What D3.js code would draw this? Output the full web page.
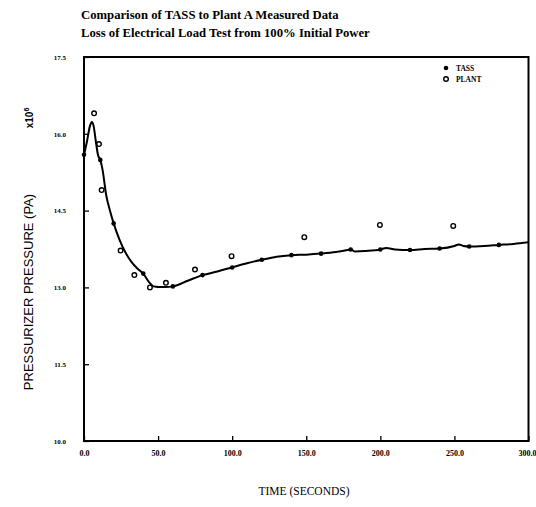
<!DOCTYPE html>
<html>
<head>
<meta charset="utf-8">
<script src="https://cdn.jsdelivr.net/npm/d3@7"></script>
<style>
  body { margin: 0; background: #fff; }
  svg { display: block; }
  .tick text { font-family: "Liberation Serif", serif; font-weight: bold; fill: #000; }
</style>
</head>
<body>
<script>
const w = 536;
const h = 507;

// ----- DATA -----
// TASS simulation curve (time s, pressure x10^6 Pa)
const tassTime = [0, 2, 4, 5.3, 6.5, 8, 9.5, 11, 12.5, 15, 17.5, 20, 24, 28, 32, 36, 40, 44, 47, 50, 55, 60,
  70, 80, 90, 100, 110, 120, 130, 140, 150, 160, 170, 178, 180, 183, 190, 200, 204, 210, 220, 230, 240,
  250, 253, 256, 260, 270, 280, 290, 300];
const tassPressure = [15.59, 15.85, 16.15, 16.23, 16.15, 15.85, 15.58, 15.49, 15.30, 14.80, 14.50, 14.25,
  13.93, 13.68, 13.50, 13.37, 13.27, 13.10, 13.02, 13.01, 13.01, 13.02, 13.13, 13.24, 13.31, 13.39, 13.47,
  13.54, 13.60, 13.63, 13.64, 13.66, 13.69, 13.73, 13.74, 13.70, 13.71, 13.74, 13.77, 13.74, 13.73, 13.75,
  13.76, 13.81, 13.84, 13.81, 13.80, 13.81, 13.83, 13.85, 13.88];

// TASS markers
const tassMarkTime = [0, 11, 20, 40, 60, 80, 100, 120, 140, 160, 180, 200, 220, 240, 260, 280];
const tassMarkPressure = [15.59, 15.49, 14.25, 13.27, 13.02, 13.24, 13.39, 13.54, 13.63, 13.66, 13.74,
  13.74, 13.73, 13.76, 13.80, 13.83];

// Plant A measured data
const plantTime = [6.8, 10.1, 11.9, 24.7, 34, 44.5, 55.3, 74.9, 99.6, 148.7, 199.7, 249.2];
const plantPressure = [16.40, 15.80, 14.90, 13.72, 13.24, 13.00, 13.09, 13.35, 13.61, 13.98, 14.22, 14.20];

const xTicks = [0, 50, 100, 150, 200, 250, 300];
const yTicks = [10.0, 11.5, 13.0, 14.5, 16.0, 17.5];

const legendNames = ["TASS", "PLANT"];

// ----- SCALES -----
const x = d3.scaleLinear().domain([0, 300]).range([84, 528.5]);
const y = d3.scaleLinear().domain([10, 17.5]).range([441, 57]);

const svg = d3.select("body").append("svg")
  .attr("width", w)
  .attr("height", h);

// ----- TITLES -----
svg.append("text")
  .attr("x", 81).attr("y", 19)
  .style("font-family", "Liberation Serif, serif")
  .style("font-weight", "bold")
  .style("font-size", "12.7px")
  .text("Comparison of TASS to Plant A Measured Data");

svg.append("text")
  .attr("x", 81).attr("y", 37)
  .style("font-family", "Liberation Serif, serif")
  .style("font-weight", "bold")
  .style("font-size", "12.7px")
  .text("Loss of Electrical Load Test from 100% Initial Power");

// ----- AXES -----
svg.append("g")
  .attr("transform", "translate(" + x(0) + ",0)")
  .call(d3.axisLeft(y).tickValues(yTicks).tickSize(-5).tickPadding(18).tickFormat(d3.format(".1f")))
  .call(g => g.select(".domain").remove())
  .call(g => g.selectAll("text").style("font-size", "7px"))
  .call(g => g.selectAll("line").attr("stroke-width", 1.3));

svg.append("g")
  .attr("transform", "translate(0," + y(10) + ")")
  .call(d3.axisBottom(x).tickValues(xTicks).tickSize(-5).tickPadding(9).tickFormat(d3.format(".1f")))
  .call(g => g.select(".domain").remove())
  .call(g => g.selectAll("text").style("font-size", "8px"))
  .call(g => g.selectAll("line").attr("stroke-width", 1.3))
  // last label sits flush with the right edge
  .call(g => g.selectAll(".tick").filter(d => d === 300).select("text")
    .attr("text-anchor", "end").attr("dx", w - x(300)));

// frame
svg.append("rect")
  .attr("x", x(0)).attr("y", y(17.5))
  .attr("width", x(300) - x(0))
  .attr("height", y(10) - y(17.5))
  .attr("fill", "none")
  .attr("stroke", "#000")
  .attr("stroke-width", 2);

// axis labels
svg.append("text")
  .attr("transform", "translate(33," + 292 + ") rotate(-90)")
  .attr("text-anchor", "middle")
  .style("font-family", "Liberation Sans, sans-serif")
  .style("font-size", "13px")
  .text("PRESSURIZER PRESSURE (PA)");

const sci = svg.append("text")
  .attr("transform", "translate(33,118) rotate(-90)")
  .attr("text-anchor", "middle")
  .style("font-family", "Liberation Sans, sans-serif")
  .style("font-weight", "bold")
  .style("font-size", "10px");
sci.append("tspan").text("x10");
sci.append("tspan").attr("dy", -4).style("font-size", "7px").text("6");

svg.append("text")
  .attr("x", 304).attr("y", 495)
  .attr("text-anchor", "middle")
  .style("font-family", "Liberation Serif, serif")
  .style("font-size", "11.5px")
  .text("TIME (SECONDS)");

// ----- TASS CURVE -----
const line = d3.line()
  .x(i => x(tassTime[i]))
  .y(i => y(tassPressure[i]))
  .curve(d3.curveMonotoneX);

svg.append("path")
  .attr("d", line(d3.range(tassTime.length)))
  .attr("fill", "none")
  .attr("stroke", "#000")
  .attr("stroke-width", 2);

svg.append("g").selectAll("circle")
  .data(d3.range(tassMarkTime.length))
  .join("circle")
  .attr("cx", i => x(tassMarkTime[i]))
  .attr("cy", i => y(tassMarkPressure[i]))
  .attr("r", 2.3)
  .attr("fill", "#000");

// ----- PLANT POINTS -----
svg.append("g").selectAll("circle")
  .data(d3.range(plantTime.length))
  .join("circle")
  .attr("cx", i => x(plantTime[i]))
  .attr("cy", i => y(plantPressure[i]))
  .attr("r", 2.3)
  .attr("fill", "none")
  .attr("stroke", "#000")
  .attr("stroke-width", 1.4);

// ----- LEGEND -----
const legend = svg.append("g").attr("transform", "translate(446,68)");
legend.selectAll("circle")
  .data(legendNames)
  .join("circle")
  .attr("cx", 0)
  .attr("cy", (d, i) => i * 11)
  .attr("r", 2.3)
  .attr("fill", (d, i) => i === 0 ? "#000" : "none")
  .attr("stroke", "#000")
  .attr("stroke-width", (d, i) => i === 0 ? 0 : 1.4);
legend.selectAll("text")
  .data(legendNames)
  .join("text")
  .attr("x", 10)
  .attr("y", (d, i) => i * 11 + 2.5)
  .style("font-family", "Liberation Serif, serif")
  .style("font-weight", "bold")
  .style("font-size", "7.5px")
  .text(d => d);
</script>
</body>
</html>
